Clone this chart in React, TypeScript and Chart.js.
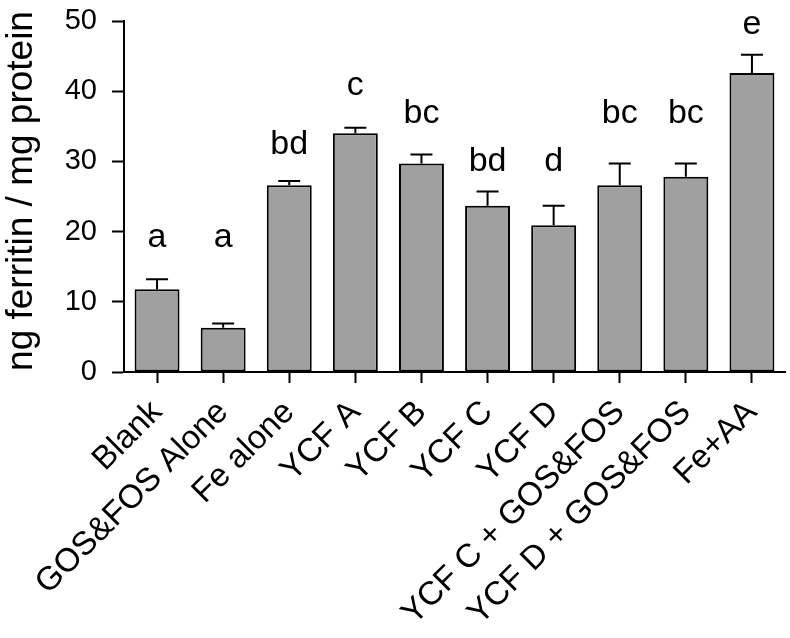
import React, { useEffect, useRef } from 'react';
import { Chart, registerables } from 'chart.js';

Chart.register(...registerables);

const categories = [
  'Blank',
  'GOS&FOS Alone',
  'Fe alone',
  'YCF A',
  'YCF B',
  'YCF C',
  'YCF D',
  'YCF C + GOS&FOS',
  'YCF D + GOS&FOS',
  'Fe+AA',
];
const means = [11.8, 6.3, 26.6, 34.0, 29.7, 23.7, 20.9, 26.6, 27.8, 42.6];
const sems = [1.4, 0.6, 0.6, 0.8, 1.3, 2.0, 2.8, 3.1, 1.9, 2.6];
const letters = ['a', 'a', 'bd', 'c', 'bc', 'bd', 'd', 'bc', 'bc', 'e'];
const letterLevels = [17.8, 17.8, 31.1, 39.4, 35.5, 28.6, 28.6, 35.5, 35.5, 48.2];
const yTicks = [0, 10, 20, 30, 40, 50];
const yTitle = 'ng ferritin / mg protein';

const FONT = '"Liberation Sans", Arial, Helvetica, sans-serif';

const annotationPlugin = {
  id: 'errorsAndLetters',
  afterDatasetsDraw(chart: any) {
    const { ctx } = chart;
    const y = chart.scales.y;
    const meta = chart.getDatasetMeta(0);
    ctx.save();
    ctx.strokeStyle = '#000';
    ctx.lineWidth = 2;
    ctx.lineCap = 'butt';
    meta.data.forEach((bar: any, i: number) => {
      const cx = bar.x;
      const yTop = y.getPixelForValue(means[i]);
      const yErr = y.getPixelForValue(means[i] + sems[i]);
      ctx.beginPath();
      ctx.moveTo(cx, yTop);
      ctx.lineTo(cx, yErr);
      ctx.moveTo(cx - 11, yErr);
      ctx.lineTo(cx + 11, yErr);
      ctx.stroke();
      ctx.fillStyle = '#000';
      ctx.font = `34px ${FONT}`;
      ctx.textAlign = 'center';
      ctx.textBaseline = 'alphabetic';
      ctx.fillText(letters[i], cx, y.getPixelForValue(letterLevels[i]));
    });
    // y-axis title
    ctx.save();
    ctx.translate(32, 191);
    ctx.rotate(-Math.PI / 2);
    ctx.font = `37px ${FONT}`;
    ctx.textAlign = 'center';
    ctx.textBaseline = 'alphabetic';
    ctx.fillStyle = '#000';
    ctx.fillText(yTitle, 0, 0);
    ctx.restore();
    ctx.restore();
  },
};

export default function App() {
  const canvasRef = useRef<HTMLCanvasElement | null>(null);

  useEffect(() => {
    if (!canvasRef.current) return;
    const chart = new Chart(canvasRef.current, {
      type: 'bar',
      data: {
        labels: categories,
        datasets: [
          {
            data: means,
            backgroundColor: '#a0a0a0',
            borderColor: '#000',
            borderWidth: 2,
            borderSkipped: false,
            barPercentage: 0.68,
            categoryPercentage: 1,
          },
        ],
      },
      options: {
        animation: false,
        responsive: true,
        maintainAspectRatio: false,
        devicePixelRatio: 1,
        layout: { padding: { top: 21, right: 5, left: 0, bottom: 0 } },
        plugins: {
          legend: { display: false },
          tooltip: { enabled: false },
        },
        scales: {
          x: {
            type: 'category',
            offset: true,
            grid: {
              display: true,
              drawOnChartArea: false,
              drawTicks: true,
              tickLength: 11,
              tickWidth: 2,
              color: '#000',
              offset: false,
            },
            border: { display: true, color: '#000', width: 2 },
            ticks: {
              color: '#000',
              font: { family: FONT, size: 33 },
              minRotation: 45,
              maxRotation: 45,
              autoSkip: false,
              padding: 10,
            },
            afterFit: (scale: any) => {
              scale.height = 266;
              scale.paddingLeft = 0;
              scale.paddingRight = 0;
            },
          },
          y: {
            min: 0,
            max: 50,
            grid: {
              display: true,
              drawOnChartArea: false,
              drawTicks: true,
              tickLength: 12,
              tickWidth: 2,
              color: '#000',
            },
            border: { display: true, color: '#000', width: 2 },
            ticks: {
              color: '#000',
              font: { family: FONT, size: 29 },
              padding: 15,
            },
            afterBuildTicks: (scale: any) => {
              scale.ticks = yTicks.map((v) => ({ value: v }));
            },
            afterFit: (scale: any) => {
              scale.width = 124;
              scale.paddingTop = 0;
              scale.paddingBottom = 0;
            },
          },
        },
      },
      plugins: [annotationPlugin],
    });
    return () => chart.destroy();
  }, []);

  return (
    <div
      style={{
        position: 'absolute',
        left: 0,
        top: 0,
        width: 790,
        height: 638,
        background: '#fff',
      }}
    >
      <canvas ref={canvasRef} />
    </div>
  );
}
